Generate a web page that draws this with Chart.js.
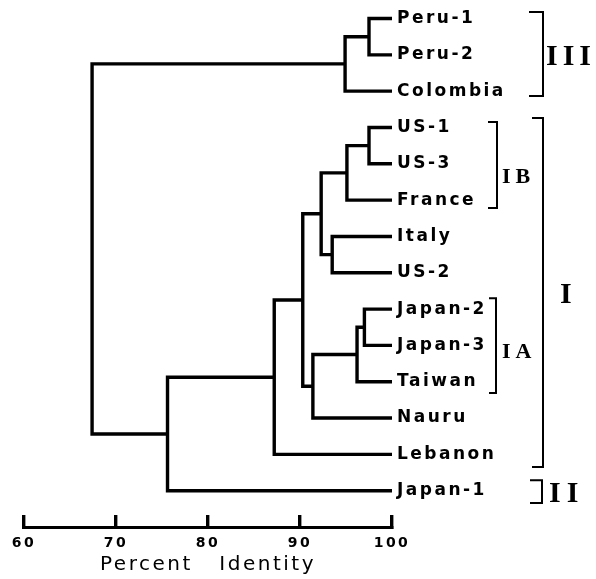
<!DOCTYPE html>
<html><head><meta charset="utf-8">
<script src="https://cdn.jsdelivr.net/npm/chart.js@4.4.1/dist/chart.umd.min.js"></script>
<style>html,body{margin:0;padding:0;background:#fff}canvas{display:block}</style>
</head><body>
<canvas id="c" width="596" height="579"></canvas>
<script>
// ---- data ----
const leaves = ['Peru-1','Peru-2','Colombia','US-1','US-3','France','Italy','US-2','Japan-2','Japan-3','Taiwan','Nauru','Lebanon','Japan-1'];
// each merge joins two children (leaf name, or number of an earlier merge) at a percent identity
const mergeLeft     = ['Peru-1', 0,         'US-1', 2,        'Italy', 3, 'Japan-2', 6,        7,       5, 9,         10,        1];
const mergeRight    = ['Peru-2', 'Colombia','US-3', 'France', 'US-2',  4, 'Japan-3', 'Taiwan', 'Nauru', 8, 'Lebanon', 'Japan-1', 11];
const mergeIdentity = [97.5,     94.9,      97.5,   95.1,     93.5,   92.3, 97.0,    96.2,     91.4,    90.3, 87.2,    75.6,      67.4];
const xTickValues = [60, 70, 80, 90, 100];
const axisTitle = 'Percent   Identity';
const groupNames = ['III', 'IB', 'I', 'IA', 'II'];
const groupFirst = ['Peru-1', 'US-1', 'US-1', 'Japan-2', 'Japan-1'];
const groupLast  = ['Colombia', 'France', 'Lebanon', 'Taiwan', 'Japan-1'];

// ---- styles for the group brackets (pixels / leaf units) ----
const bracketStyle = {
  III: {x: 543, tick: 14, padTop: 0.18, padBottom: 0.13, labelX: 546, labelAt: 1.0,  size: 30, spacing: 5},
  IB:  {x: 497, tick: 9,  padTop: 0.15, padBottom: 0.22, labelX: 502, labelAt: 4.34, size: 22, spacing: 5},
  I:   {x: 543, tick: 11, padTop: 0.26, padBottom: 0.35, labelX: 560, labelAt: 7.56, size: 30, spacing: 0},
  IA:  {x: 496, tick: 7,  padTop: 0.30, padBottom: 0.31, labelX: 502, labelAt: 9.15, size: 22, spacing: 5},
  II:  {x: 542, tick: 12, padTop: 0.29, padBottom: 0.34, labelX: 549, labelAt: 13.04, size: 30, spacing: 6}
};

// ---- build dendrogram paths from the merges ----
const nodePos = [];
function pos(ref) {
  if (typeof ref === 'string') return {x: 100, y: leaves.indexOf(ref)};
  return nodePos[ref];
}
const datasets = [];
for (let k = 0; k < mergeIdentity.length; k++) {
  const a = pos(mergeLeft[k]), b = pos(mergeRight[k]), h = mergeIdentity[k];
  nodePos.push({x: h, y: (a.y + b.y) / 2});
  datasets.push({
    data: [{x: a.x, y: a.y}, {x: h, y: a.y}, {x: h, y: b.y}, {x: b.x, y: b.y}],
    showLine: true, borderColor: '#000', borderWidth: 3.4, pointRadius: 0,
    borderJoinStyle: 'miter', borderCapStyle: 'butt', tension: 0, clip: false
  });
}

const spacingPlugin = {
  id: 'spacing',
  beforeInit(chart) { chart.ctx.letterSpacing = '2.5px'; },
  beforeLayout(chart) { chart.ctx.letterSpacing = '2.5px'; },
  beforeDraw(chart) { chart.ctx.letterSpacing = '2.5px'; }
};

const bracketPlugin = {
  id: 'brackets',
  afterDraw(chart) {
    const ctx = chart.ctx, ys = chart.scales.y;
    groupNames.forEach((name, i) => {
      const s = bracketStyle[name];
      const top = ys.getPixelForValue(leaves.indexOf(groupFirst[i]) - s.padTop);
      const bot = ys.getPixelForValue(leaves.indexOf(groupLast[i]) + s.padBottom);
      ctx.save();
      ctx.strokeStyle = '#000';
      ctx.lineWidth = 2;
      ctx.lineJoin = 'miter';
      ctx.beginPath();
      ctx.moveTo(s.x - s.tick, top);
      ctx.lineTo(s.x, top);
      ctx.lineTo(s.x, bot);
      ctx.lineTo(s.x - s.tick, bot);
      ctx.stroke();
      ctx.fillStyle = '#000';
      ctx.font = 'bold ' + s.size + 'px "Liberation Serif", "DejaVu Serif", serif';
      ctx.letterSpacing = s.spacing + 'px';
      ctx.textAlign = 'left';
      ctx.textBaseline = 'alphabetic';
      const cy = ys.getPixelForValue(s.labelAt);
      ctx.fillText(name, s.labelX, cy + s.size * 0.66 / 2);
      ctx.restore();
    });
  }
};

new Chart(document.getElementById('c'), {
  type: 'scatter',
  data: {datasets},
  plugins: [spacingPlugin, bracketPlugin],
  options: {
    responsive: false,
    animation: false,
    events: [],
    layout: {padding: {left: 24, right: 0, top: 0, bottom: 0}},
    plugins: {legend: {display: false}, tooltip: {enabled: false}},
    scales: {
      x: {
        type: 'linear', position: 'bottom', min: 60, max: 100,
        afterBuildTicks(scale) { scale.ticks = xTickValues.map(v => ({value: v})); },
        afterFit(scale) { scale.height = 52; scale.paddingLeft = 0; scale.paddingRight = 0; },
        border: {display: true, color: '#000', width: 3},
        grid: {display: true, drawOnChartArea: false, drawTicks: true, tickLength: -12, color: '#000', lineWidth: 3.4},
        ticks: {
          color: '#000', padding: 20, autoSkip: false, maxRotation: 0,
          font: {family: '"DejaVu Sans", sans-serif', size: 14, weight: 'bold'},
          callback: v => String(v)
        },
        title: {
          display: true, text: axisTitle, color: '#000',
          font: {family: '"DejaVu Sans", sans-serif', size: 20, weight: '500'},
          padding: {top: 2, bottom: 2}
        }
      },
      y: {
        type: 'linear', position: 'right', reverse: true, min: -0.51, max: 14.0,
        afterBuildTicks(scale) { scale.ticks = leaves.map((_, i) => ({value: i})); },
        afterFit(scale) { scale.width = 204; scale.paddingTop = 0; scale.paddingBottom = 0; },
        border: {display: false},
        grid: {display: false, drawTicks: false},
        ticks: {
          color: '#000', padding: 5, autoSkip: false,
          font: {family: '"DejaVu Sans", sans-serif', size: 17, weight: 'bold'},
          callback: v => leaves[v]
        }
      }
    }
  }
});
</script>
</body></html>
